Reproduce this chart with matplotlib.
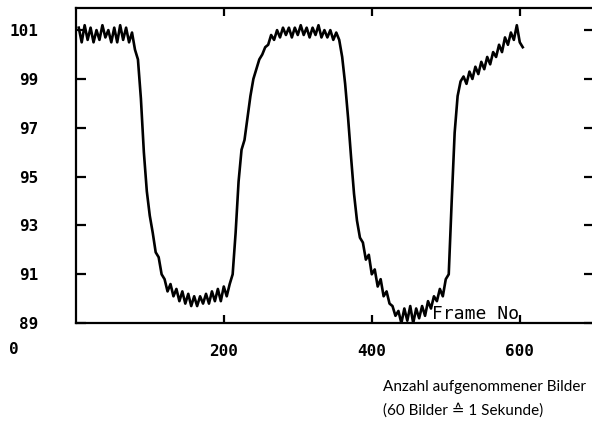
import matplotlib
matplotlib.use('Agg')
import matplotlib.pyplot as plt
import numpy as np

# frame numbers (every 4th frame) and measured value
frames = np.arange(4, 608, 4)
values = [
    101.1, 100.5, 101.2, 100.6, 101.1, 100.5, 101.0, 100.6, 101.2, 100.7,
    101.0, 100.5, 101.1, 100.5, 101.2, 100.6, 101.1, 100.5, 100.9, 100.2,
    99.8, 98.2, 96.0, 94.4, 93.4, 92.7, 91.9, 91.7, 91.0, 90.8,
    90.3, 90.6, 90.1, 90.4, 89.9, 90.3, 89.8, 90.2, 89.7, 90.1,
    89.7, 90.1, 89.8, 90.2, 89.8, 90.3, 89.9, 90.4, 89.9, 90.5,
    90.1, 90.6, 91.0, 92.7, 94.8, 96.1, 96.5, 97.4, 98.3, 99.0,
    99.4, 99.8, 100.0, 100.3, 100.4, 100.8, 100.6, 101.0, 100.7, 101.1,
    100.8, 101.1, 100.7, 101.1, 100.8, 101.2, 100.8, 101.1, 100.7, 101.1,
    100.8, 101.2, 100.7, 101.0, 100.7, 101.0, 100.6, 100.9, 100.6, 99.9,
    98.8, 97.4, 95.8, 94.3, 93.2, 92.5, 92.3, 91.6, 91.8, 91.0,
    91.2, 90.5, 90.8, 90.1, 90.3, 89.8, 89.7, 89.3, 89.5, 89.0,
    89.6, 89.1, 89.7, 89.0, 89.6, 89.2, 89.7, 89.3, 89.9, 89.6,
    90.1, 89.9, 90.4, 90.1, 90.8, 91.0, 94.0, 96.8, 98.3, 98.9,
    99.1, 98.8, 99.3, 99.0, 99.5, 99.2, 99.7, 99.4, 99.9, 99.6,
    100.1, 99.9, 100.4, 100.1, 100.7, 100.4, 100.9, 100.6, 101.2, 100.5,
    100.3,
]
frames = frames[:len(values)]

yticks = [89, 91, 93, 95, 97, 99, 101]
xticks = [200, 400, 600]
xticklabels = ['200', '400', '600']

fig = plt.figure(figsize=(5.92, 4.28), dpi=100)
ax = fig.add_axes([0.128, 0.245, 0.875, 0.736])

ax.plot(frames, values, color='black', lw=1.9)

ax.set_xlim(0, 700)
ax.set_ylim(89, 101.9)

for s in ax.spines.values():
    s.set_linewidth(1.6)

mono = dict(family='DejaVu Sans Mono', weight='bold', size=11.5)

ax.set_yticks(yticks)
ax.set_yticklabels([str(t) for t in yticks], fontdict=mono)
ax.set_xticks(xticks)
ax.set_xticklabels(xticklabels, fontdict=mono)
ax.tick_params(axis='y', direction='in', length=7, width=1.6, pad=27,
               right=True)
ax.tick_params(axis='x', direction='in', length=6, width=1.6, pad=15,
               top=True)

ax.text(482, 89.0, 'Frame No', family='DejaVu Sans Mono', size=13,
        ha='left', va='bottom')

fig.text(9 / 592, 1 - 350 / 428, '0', ha='left', va='center', **mono)

caption = dict(family=['Lato', 'DejaVu Sans'], size=11)
fig.text(383 / 592, 1 - 387 / 428, 'Anzahl aufgenommener Bilder',
         ha='left', va='center', **caption)
fig.text(383 / 592, 1 - 410 / 428, '(60 Bilder \u2259 1 Sekunde)',
         ha='left', va='center', **caption)

fig.savefig('out.png', dpi=100)
